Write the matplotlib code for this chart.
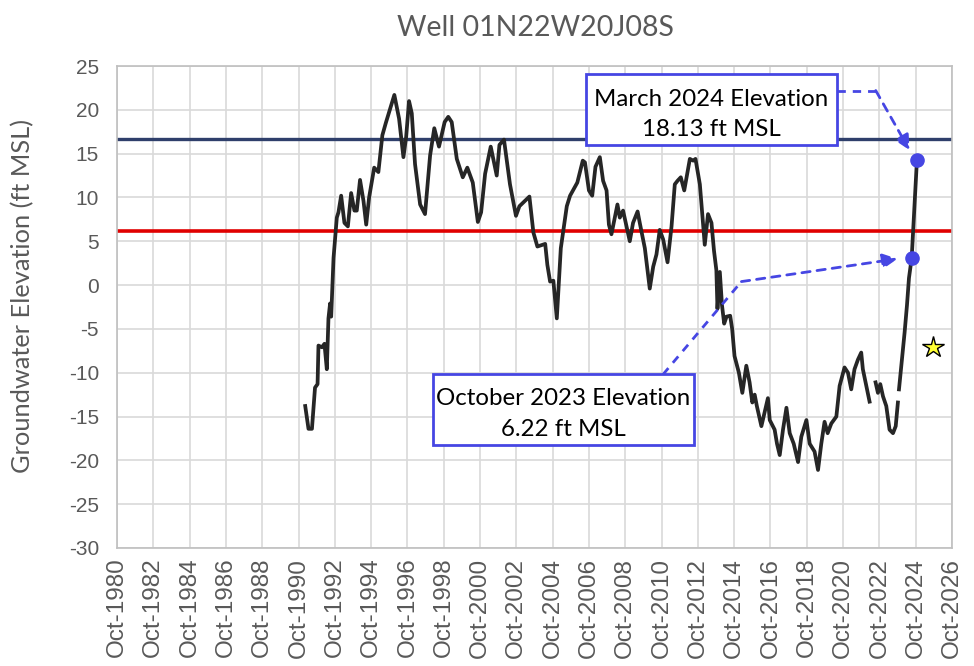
import numpy as np
import matplotlib.pyplot as plt

nan = np.nan

# groundwater elevation record (decimal year, ft MSL); nan = gap in record
years = [1991.12, 1991.30, 1991.49, 1991.57, 1991.66, 1991.80, 1991.85, 1992.04, 1992.18, 1992.31,
         1992.40, 1992.49, 1992.55, 1992.68, 1992.77, 1992.86, 1992.95, 1993.10, 1993.28, 1993.47,
         1993.65, 1993.83, 1993.96, 1994.14, 1994.33, 1994.48, 1994.64, 1994.92, 1995.15, 1995.37,
         1995.56, 1996.03, 1996.29, 1996.53, 1996.68, 1996.84, 1996.99, 1997.17, 1997.45, 1997.72,
         1998.00, 1998.23, 1998.49, 1998.80, 1999.00, 1999.19, 1999.47, 1999.80, 2000.05, 2000.35,
         2000.63, 2000.81, 2001.03, 2001.34, 2001.67, 2001.82, 2002.07, 2002.40, 2002.73, 2002.92,
         2003.47, 2003.69, 2003.91, 2004.34, 2004.46, 2004.61, 2004.79, 2004.98, 2005.20, 2005.53,
         2005.71, 2006.11, 2006.41, 2006.53, 2006.75, 2006.93, 2007.11, 2007.35, 2007.53, 2007.72,
         2007.85, 2007.99, 2008.32, 2008.45, 2008.63, 2008.82, 2009.00, 2009.18, 2009.43, 2009.55,
         2009.83, 2010.10, 2010.29, 2010.47, 2010.65, 2010.84, 2011.08, 2011.30, 2011.48, 2011.63,
         2011.81, 2012.00, 2012.31, 2012.49, 2012.62, 2012.86, 2013.13, 2013.31, 2013.50, 2013.64,
         2013.77, 2013.83, 2013.96, 2014.08, 2014.20, 2014.33, 2014.53, 2014.64, 2014.77, 2015.01,
         2015.20, 2015.42, 2015.60, 2015.75, 2015.88, 2016.00, 2016.25, 2016.43, 2016.61, 2016.71,
         2016.98, 2017.11, 2017.26, 2017.44, 2017.63, 2017.81, 2018.03, 2018.27, 2018.45, 2018.73,
         2018.91, 2019.18, 2019.37, 2019.55, 2019.73, 2019.90, 2020.10, 2020.38, 2020.56, 2020.83,
         2021.02, 2021.20, 2021.38, 2021.57, 2021.75, 2021.84, 2022.21, 2022.40, 2022.54, 2022.67,
         2022.80, 2022.95, 2023.13, 2023.31, 2023.50, 2023.65, 2023.77, 2023.80, 2023.83, 2023.96,
         2024.14, 2024.27, 2024.38, 2024.53, 2024.82]
levels = [-13.8, -16.4, -16.4, -14.2, -11.7, -11.3, -6.9, -7.1, -6.7, -9.6,
          -3.8, -2.1, -3.6, 3.1, 5.4, 7.7, 8.3, 10.2, 7.1, 6.7,
          10.5, 8.5, 8.5, 12.0, 9.6, 6.9, 10.0, 13.4, 12.9, 17.1,
          18.5, 21.7, 19.0, 14.6, 16.9, 21.0, 19.6, 13.8, 9.2, 8.1,
          14.8, 17.9, 15.8, 18.6, 19.2, 18.6, 14.4, 12.3, 13.4, 11.7,
          7.2, 8.3, 12.7, 15.8, 12.5, 16.0, 16.6, 11.5, 7.9, 9.0,
          10.1, 6.0, 4.4, 4.7, 2.3, 0.4, 0.5, -3.8, 4.2, 9.0,
          10.2, 11.7, 14.2, 14.0, 10.8, 10.2, 13.5, 14.6, 11.9, 10.8,
          6.9, 5.8, 9.2, 7.7, 8.5, 6.7, 5.0, 7.1, 8.4, 7.1,
          4.2, -0.4, 2.1, 3.5, 6.3, 5.2, 2.6, 6.7, 11.5, 11.9,
          12.3, 10.8, 14.4, 14.2, 14.4, 11.5, 4.6, 8.1, 7.1, 3.9,
          1.7, -2.7, 1.5, -2.3, -4.4, -3.6, -3.5, -5.0, -8.1, -10.0,
          -12.3, -9.2, -11.1, -13.4, -12.5, -13.8, -16.1, -14.5, -12.9, -15.4,
          -16.5, -18.1, -19.4, -16.5, -14.0, -16.9, -18.1, -20.2, -17.3, -15.4,
          -18.1, -19.0, -21.1, -18.1, -15.6, -16.9, -15.8, -15.0, -11.5, -9.4,
          -10.0, -11.9, -9.6, -8.5, -7.7, -9.6, -13.3, nan, -11.1, -12.3,
          -11.3, -12.7, -13.8, -16.5, -16.9, -16.1, -13.4, nan, -11.9, -9.2,
          -5.4, -2.3, 0.8, 3.1, 14.3]

ref_high = 16.7   # navy reference line
ref_low = 6.15    # red reference line

oct_pt = (2024.53, 3.1)
mar_pt = (2024.82, 14.3)
star_pt = (2025.68, -7.1)

tick_years = list(range(1980, 2027, 2))
tick_labels = ["Oct-%d" % y for y in tick_years]

fig = plt.figure(figsize=(9.74, 6.66), dpi=100)
ax = fig.add_axes([0.1201, 0.1772, 0.8573, 0.7237])

grey = "#595959"
ax.plot(years, levels, color="#262626", lw=2.7, zorder=3)
ax.axhline(ref_high, color="#2F3F6B", lw=2.4, zorder=2)
ax.axhline(ref_low, color="#E00000", lw=2.6, zorder=2)

blue = "#4646E3"
ax.plot(*oct_pt, "o", color=blue, ms=9.5, zorder=5)
ax.plot(*mar_pt, "o", color=blue, ms=9.5, zorder=5)
ax.plot(*star_pt, marker="*", color="#FFFF33", mec="black", mew=1, ms=16, zorder=5)

# annotation boxes
box_font = dict(family="Lato", fontsize=17.3, color="black", ha="center", va="center",
                linespacing=1.55, zorder=7)
ax.add_patch(plt.Rectangle((2006.57, 16.03), 13.84, 8.01, fc="white", ec=blue, lw=2, zorder=6))
ax.text(2013.49, 19.45, "March 2024 Elevation\n18.13 ft MSL", **box_font)
ax.add_patch(plt.Rectangle((1998.16, -18.26), 14.37, 8.08, fc="white", ec=blue, lw=2, zorder=6))
ax.text(2005.35, -14.7, "October 2023 Elevation\n6.22 ft MSL", **box_font)

# dashed leader arrows
dash = dict(color=blue, lw=2, ls=(0, (3, 2.5)), zorder=4)
ax.plot([2020.41, 2022.55], [22.2, 22.2], **dash)
ax.annotate("", xy=(2024.41, 15.4), xytext=(2022.55, 22.2),
            arrowprops=dict(arrowstyle="-|>", color=blue, lw=2, ls=(0, (3, 2.5)),
                            mutation_scale=22, shrinkA=0, shrinkB=0), zorder=4)
ax.plot([2010.83, 2015.15], [-10.2, 0.4], **dash)
ax.annotate("", xy=(2023.75, 3.0), xytext=(2015.15, 0.4),
            arrowprops=dict(arrowstyle="-|>", color=blue, lw=2, ls=(0, (3, 2.5)),
                            mutation_scale=22, shrinkA=0, shrinkB=0), zorder=4)

ax.set_xlim(1980.75, 2026.75)
ax.set_ylim(-30, 25)
ax.set_xticks([y + 0.75 for y in tick_years])
ax.set_xticklabels(tick_labels, rotation=90, family="Liberation Sans", fontsize=17.5, color=grey)
ax.set_yticks(range(-30, 26, 5))
ax.set_yticklabels([str(v) for v in range(-30, 26, 5)], family="Liberation Sans",
                   fontsize=15, color=grey)
ax.tick_params(axis="x", length=0, pad=7)
ax.tick_params(axis="y", length=0, pad=13)
ax.grid(True, color="#D9D9D9", lw=1.2, zorder=0)
ax.set_axisbelow(True)
for s in ax.spines.values():
    s.set_color("#BFBFBF")
    s.set_linewidth(1.2)

ax.set_ylabel("Groundwater Elevation (ft MSL)", family="Lato", fontsize=18.3, color=grey)
ax.yaxis.set_label_coords(-0.099, 0.523)
fig.text(535 / 974, 1 - 28 / 666, "Well 01N22W20J08S", family="Lato", fontsize=20.5,
         color=grey, ha="center", va="center")

fig.savefig("out.png", dpi=100)
